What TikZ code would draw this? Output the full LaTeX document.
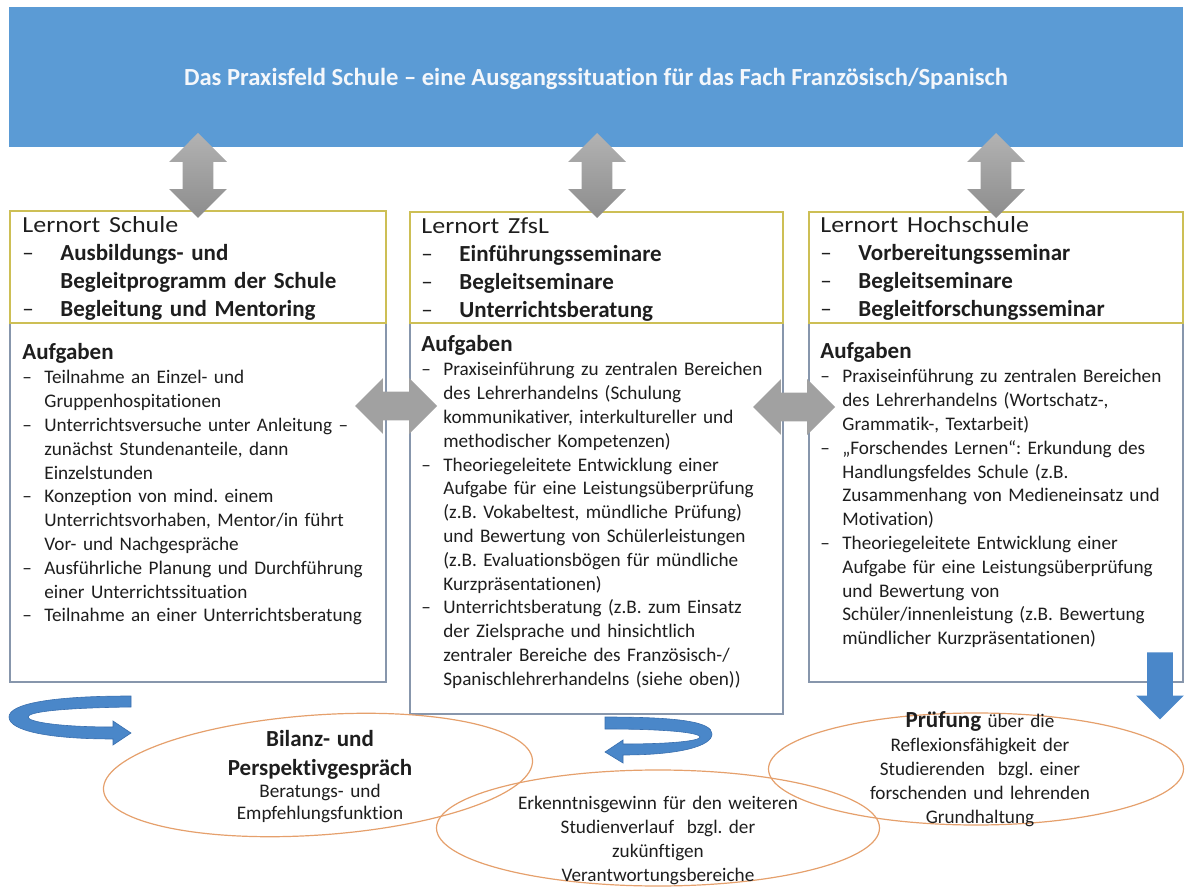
\documentclass[tikz,border=0pt]{standalone}
\usepackage{fontspec}
\setmainfont{Carlito}[Ligatures=NoCommon]
\usepackage{graphicx}
\usetikzlibrary{shapes.arrows,shapes.geometric,fit}
\definecolor{hdrblue}{HTML}{5B9BD5}
\definecolor{titlewhite}{HTML}{F4F7FB}
\definecolor{yelborder}{HTML}{CDBF55}
\definecolor{lowborder}{HTML}{8796AC}
\definecolor{ellorange}{HTML}{E5A06C}
\definecolor{arrblue}{HTML}{4A87C9}
\definecolor{arrblueD}{HTML}{3A6FAE}
\definecolor{txt}{HTML}{1E1E1E}
\newcommand\hdash{\makebox[19pt][l]{–}}
\newcommand\hcont{\hspace*{19pt}}
\newcommand\ldash{\makebox[11pt][l]{–}}
\newcommand\lcont{\hspace*{11pt}}
\newcommand\lern[1]{\scalebox{1.13}[1]{#1}}
\frenchspacing
\tikzset{
  upbox/.style={inner sep=0pt, draw=yelborder, line width=0.6pt},
  lowbox/.style={inner sep=0pt, draw=lowborder, line width=0.6pt, fill=white},
  hdr/.style={anchor=base west, text width=200pt, align=left, inner sep=0pt, text=txt, font=\fontsize{11.5}{14}\selectfont},
  aufg/.style={anchor=base west, inner sep=0pt, text=txt, font=\fontsize{11.5}{14}\selectfont\bfseries},
  lst/.style={anchor=base west, text width=200pt, align=left, inner sep=0pt, text=txt, font=\fontsize{9.6}{11.9}\selectfont},
  ell/.style={ellipse, draw=ellorange, line width=0.6pt, inner sep=0pt},
  elltext/.style={anchor=base, text width=240pt, align=center, inner sep=0pt, text=txt},
  vdarrow/.style={double arrow, rotate=90, inner xsep=0pt, inner ysep=7.5pt, minimum height=42.5pt, minimum width=28.5pt, double arrow head extend=6.75pt, top color=black!30, bottom color=black!45, draw=none},
  hdarrow/.style={double arrow, inner xsep=0pt, inner ysep=7pt, minimum height=41pt, minimum width=27.5pt, double arrow head extend=6.75pt, fill=black!37, draw=none},
  curlarrow/.style={fill=arrblue, draw=arrblueD, line width=0.3pt}
}
\begin{document}
\begin{tikzpicture}[x=0.5pt,y=-0.5pt]
\useasboundingbox (0,0) rectangle (1191,888);
% top banner
\node[fit={(9,7) (1183,147)}, inner sep=0pt, fill=hdrblue] (top) {};
\node[text=titlewhite, font=\fontsize{12.3}{14}\selectfont\bfseries] (title) at (596,79) {Das Praxisfeld Schule – eine Ausgangssituation für das Fach Französisch/Spanisch};

% boxes
\node[lowbox, fit={(10,323) (386,682)}] (sL) {};
\node[upbox, fit={(10,211) (386,323)}] (hL) {};
\node[lowbox, fit={(410,323) (783,714)}] (sM) {};
\node[upbox, fit={(410,212) (783,323)}] (hM) {};
\node[lowbox, fit={(809,323) (1183,682)}] (sR) {};
\node[upbox, fit={(809,212) (1183,323)}] (hR) {};

% headers
\node[hdr] (tL) at (22,233) {\lern{Lernort Schule}\\
\hdash\textbf{Ausbildungs- und}\\
\hcont\textbf{Begleitprogramm der Schule}\\
\hdash\textbf{Begleitung und Mentoring}};
\node[hdr] (tM) at (421,234) {\lern{Lernort ZfsL}\\
\hdash\textbf{Einführungsseminare}\\
\hdash\textbf{Begleitseminare}\\
\hdash\textbf{Unterrichtsberatung}};
\node[hdr] (tR) at (820,233) {\lern{Lernort Hochschule}\\
\hdash\textbf{Vorbereitungsseminar}\\
\hdash\textbf{Begleitseminare}\\
\hdash\textbf{Begleitforschungsseminar}};

% Aufgaben
\node[aufg] (aL) at (22,359) {Aufgaben};
\node[aufg] (aM) at (421,351) {Aufgaben};
\node[aufg] (aR) at (820,358) {Aufgaben};

\node[lst] (lL) at (22,384) {\ldash Teilnahme an Einzel- und\\
\lcont Gruppenhospitationen\\
\ldash Unterrichtsversuche unter Anleitung –\\
\lcont zunächst Stundenanteile, dann\\
\lcont Einzelstunden\\
\ldash Konzeption von mind. einem\\
\lcont Unterrichtsvorhaben, Mentor/in führt\\
\lcont Vor- und Nachgespräche\\
\ldash Ausführliche Planung und Durchführung\\
\lcont einer Unterrichtssituation\\
\ldash Teilnahme an einer Unterrichtsberatung};

\node[lst] (lM) at (421,376) {\ldash Praxiseinführung zu zentralen Bereichen\\
\lcont des Lehrerhandelns (Schulung\\
\lcont kommunikativer, interkultureller und\\
\lcont methodischer Kompetenzen)\\
\ldash Theoriegeleitete Entwicklung einer\\
\lcont Aufgabe für eine Leistungsüberprüfung\\
\lcont (z.B. Vokabeltest, mündliche Prüfung)\\
\lcont und Bewertung von Schülerleistungen\\
\lcont (z.B. Evaluationsbögen für mündliche\\
\lcont Kurzpräsentationen)\\
\ldash Unterrichtsberatung (z.B. zum Einsatz\\
\lcont der Zielsprache und hinsichtlich\\
\lcont zentraler Bereiche des Französisch-/\\
\lcont Spanischlehrerhandelns (siehe oben))};

\node[lst] (lR) at (820,383) {\ldash Praxiseinführung zu zentralen Bereichen\\
\lcont des Lehrerhandelns (Wortschatz-,\\
\lcont Grammatik-, Textarbeit)\\
\ldash „Forschendes Lernen“: Erkundung des\\
\lcont Handlungsfeldes Schule (z.B.\\
\lcont Zusammenhang von Medieneinsatz und\\
\lcont Motivation)\\
\ldash Theoriegeleitete Entwicklung einer\\
\lcont Aufgabe für eine Leistungsüberprüfung\\
\lcont und Bewertung von\\
\lcont Schüler/innenleistung (z.B. Bewertung\\
\lcont mündlicher Kurzpräsentationen)};

% ellipses
\node[ell, minimum width=215pt, minimum height=60pt, rotate=4] (e1) at (318,775) {};
\node[ell, minimum width=221.5pt, minimum height=58pt] (e2) at (658,828) {};
\node[ell, minimum width=207.5pt, minimum height=56pt] (e3) at (976,769) {};

\node[elltext] (x1) at (320,746) {{\fontsize{11.5}{14.5}\selectfont\bfseries Bilanz- und\par Perspektivgespräch\par}{\fontsize{9.6}{11.2}\selectfont Beratungs- und\par Empfehlungsfunktion\par}};
\node[elltext, font=\fontsize{9.6}{12}\selectfont] (x2) at (658,809) {Erkenntnisgewinn für den weiteren\\ Studienverlauf\ \ bzgl. der\\ zukünftigen\\ Verantwortungsbereiche};
\node[elltext, font=\fontsize{9.6}{12}\selectfont] (x3) at (980,727) {{\fontsize{11.5}{12}\selectfont\bfseries Prüfung} über die\\ Reflexionsfähigkeit der\\ Studierenden\ \ bzgl. einer\\ forschenden und lehrenden\\ Grundhaltung};

% gray double arrows
\node[vdarrow] (v1) at (198,175.5) {};
\node[vdarrow] (v2) at (597,175.5) {};
\node[vdarrow] (v3) at (996,175.5) {};
\node[hdarrow] (h1) at (396,406) {};
\node[hdarrow] (h2) at (794,407) {};

% blue down arrow
\node[single arrow, rotate=-90, inner xsep=0pt, inner ysep=6.25pt, minimum height=33.5pt, minimum width=23.5pt, single arrow head extend=5.5pt, fill=arrblue, draw=none, anchor=center] (down) at (1160,679.5) {};

% curled arrows
\path[curlarrow] (131,696) .. controls (50,696) and (9,704) .. (9,717) .. controls (9,731) and (50,739) .. (113,739) -- (113,745) -- (131,733) -- (113,721) -- (113,727) .. controls (60,727) and (28,722) .. (28,717) .. controls (28,712) and (60,708) .. (131,707) -- cycle;
\path[curlarrow] (605,717) .. controls (680,717) and (712,722) .. (712,734) .. controls (712,746) and (680,755) .. (623,755) -- (623,763) -- (605,752) -- (623,740) -- (623,744) .. controls (670,744) and (700,741) .. (700,737) .. controls (700,733) and (670,729) .. (605,729) -- cycle;
\end{tikzpicture}
\end{document}
